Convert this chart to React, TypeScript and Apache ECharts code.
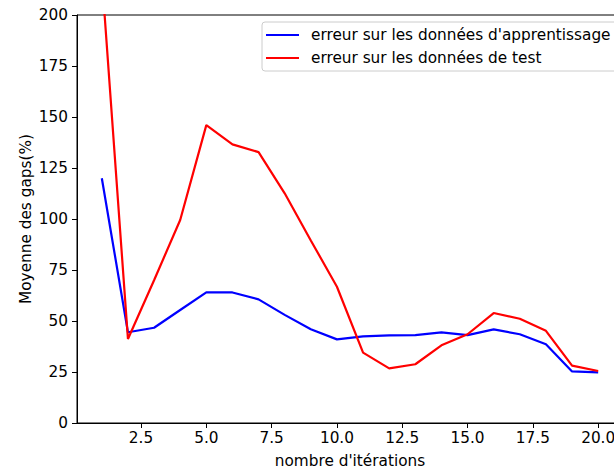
import React, { useEffect, useRef } from "react";
import * as echarts from "echarts";

const iterations = [1, 2, 3, 4, 5, 6, 7, 8, 9, 10, 11, 12, 13, 14, 15, 16, 17, 18, 19, 20];
const trainError = [120, 44.5, 46.7, 55.4, 64, 64, 60.6, 53, 46, 41, 42.5, 43, 43.1, 44.4, 43.1, 45.9, 43.5, 38.6, 25.3, 24.8];
const testError = [219, 41.2, 70, 99.5, 146, 136.6, 132.8, 112.6, 89.5, 66.8, 34.5, 26.8, 28.8, 38.1, 43.5, 53.9, 51.1, 45.2, 28.1, 25.5];
const xTicks = [2.5, 5, 7.5, 10, 12.5, 15, 17.5, 20];
const seriesNames = ["erreur sur les données d'apprentissage", "erreur sur les données de test"];

const FONT = "DejaVu Sans";
const FS = 15.3;

export default function App() {
  const ref = useRef<HTMLDivElement>(null);
  useEffect(() => {
    const chart = echarts.init(ref.current!, null, { renderer: "svg" });
    chart.setOption({
      animation: false,
      backgroundColor: "#ffffff",
      grid: {
        left: 77,
        top: 15,
        width: 546,
        height: 408,
        containLabel: false,
        outerBoundsMode: "none",
        show: true,
        borderColor: "#000",
        borderWidth: 1,
        backgroundColor: "transparent",
      },
      legend: {
        orient: "vertical",
        left: 262,
        top: 22,
        padding: [4, 8, 4, 4],
        itemGap: 5,
        itemWidth: 33,
        itemHeight: 2,
        icon: "rect",
        borderColor: "#cccccc",
        borderWidth: 1,
        borderRadius: 3,
        backgroundColor: "rgba(255,255,255,0.8)",
        textStyle: {
          fontFamily: FONT,
          fontSize: FS,
          color: "#000",
          lineHeight: 18,
          padding: [0, 0, 0, 7],
        },
        data: seriesNames,
      },
      xAxis: {
        type: "value",
        min: 0.05,
        max: 20.95,
        name: "nombre d'itérations",
        nameLocation: "middle",
        nameGap: 30,
        nameMoveOverlap: false,
        nameTextStyle: { fontFamily: FONT, fontSize: FS, color: "#000" },
        splitLine: { show: false },
        axisLine: { show: true, lineStyle: { color: "#000", width: 1 } },
        axisTick: {
          show: true,
          length: 5,
          lineStyle: { color: "#000", width: 1 },
          customValues: xTicks,
        },
        axisLabel: {
          fontFamily: FONT,
          fontSize: FS,
          color: "#000",
          margin: 7,
          customValues: xTicks,
          formatter: (v: number) => v.toFixed(1),
        },
      },
      yAxis: {
        type: "value",
        min: 0,
        max: 200,
        interval: 25,
        name: "Moyenne des gaps(%)",
        nameLocation: "middle",
        nameRotate: 90,
        nameGap: 44,
        nameMoveOverlap: false,
        nameTextStyle: { fontFamily: FONT, fontSize: FS, color: "#000" },
        splitLine: { show: false },
        axisLine: { show: true, lineStyle: { color: "#000", width: 1 } },
        axisTick: { show: true, length: 5, lineStyle: { color: "#000", width: 1 } },
        axisLabel: { fontFamily: FONT, fontSize: FS, color: "#000", margin: 9 },
      },
      series: [
        {
          name: seriesNames[0],
          type: "line",
          data: iterations.map((x, i) => [x, trainError[i]]),
          showSymbol: false,
          symbol: "none",
          lineStyle: { color: "#0000ff", width: 2.2 },
          itemStyle: { color: "#0000ff" },
          clip: true,
        },
        {
          name: seriesNames[1],
          type: "line",
          data: iterations.map((x, i) => [x, testError[i]]),
          showSymbol: false,
          symbol: "none",
          lineStyle: { color: "#ff0000", width: 2.2 },
          itemStyle: { color: "#ff0000" },
          clip: true,
        },
      ],
    });
    return () => chart.dispose();
  }, []);
  return (
    <div
      ref={ref}
      style={{ position: "fixed", left: 0, top: 0, width: 614, height: 468, background: "#fff" }}
    />
  );
}
